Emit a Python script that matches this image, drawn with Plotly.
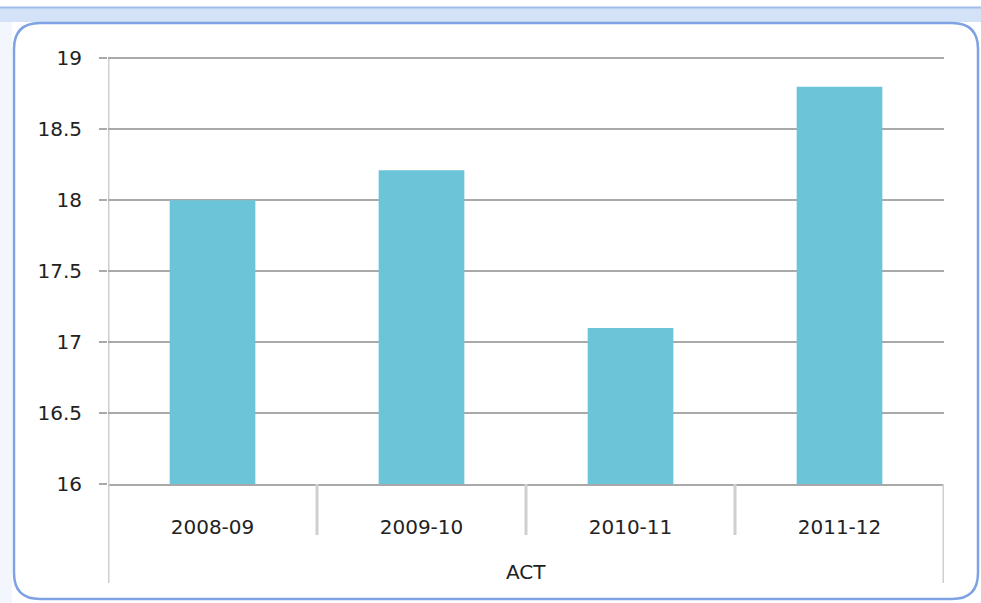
import plotly.graph_objects as go

categories = ["2008-09", "2009-10", "2010-11", "2011-12"]
values = [18.0, 18.21, 17.1, 18.8]
group_label = "ACT"
y_ticks = [16, 16.5, 17, 17.5, 18, 18.5, 19]
y_ticktext = ["16", "16.5", "17", "17.5", "18", "18.5", "19"]

W, H = 981, 603
Y_MIN, Y_MAX = 16, 19.03
L, R, B = 108, 944, 484
T = 58 - round((Y_MAX - 19) * (B - 58) / 3)  # plot top in px


def px(x):
    return (x - L) / (R - L)


def py(y):
    return (B - y) / (B - T)


FONT = "DejaVu Sans"
FS = 20
TXT = "#222222"
bar_color = "#6CC4D8"
grid_color = "#A9A9A9"
div_color = "#CFCFCF"

fig = go.Figure()
fig.add_trace(go.Bar(x=categories, y=values, marker=dict(color=bar_color, line=dict(width=0)),
                     width=0.41))

shapes = []
# top strip
shapes.append(dict(type="rect", xref="paper", yref="paper", x0=px(0), x1=px(W), y0=py(22), y1=py(7),
                   fillcolor="#D3E2F6", line=dict(width=0), layer="below"))
shapes.append(dict(type="line", xref="paper", yref="paper", x0=px(0), x1=px(W), y0=py(7.5), y1=py(7.5),
                   line=dict(color="#9FBCEB", width=2), layer="below"))
shapes.append(dict(type="rect", xref="paper", yref="paper", x0=px(0), x1=px(12), y0=py(W), y1=py(22),
                   fillcolor="#F3F6FC", line=dict(width=0), layer="below"))
# rounded chart border
x0, x1, y0, y1, r = 14, 978, 23, 599, 26
path = (f"M {px(x0+r)},{py(y0)} L {px(x1-r)},{py(y0)} Q {px(x1)},{py(y0)} {px(x1)},{py(y0+r)} "
        f"L {px(x1)},{py(y1-r)} Q {px(x1)},{py(y1)} {px(x1-r)},{py(y1)} "
        f"L {px(x0+r)},{py(y1)} Q {px(x0)},{py(y1)} {px(x0)},{py(y1-r)} "
        f"L {px(x0)},{py(y0+r)} Q {px(x0)},{py(y0)} {px(x0+r)},{py(y0)} Z")
shapes.append(dict(type="path", xref="paper", yref="paper", path=path, fillcolor="white",
                   line=dict(color="#7EA2E4", width=2.5), layer="below"))
# category dividers
n = len(categories)
for i in range(n + 1):
    xv = i - 0.5
    bottom = 583 if i in (0, n) else 535
    shapes.append(dict(type="line", xref="x", yref="paper", x0=xv, x1=xv, y0=py(bottom), y1=py(484),
                       line=dict(color=div_color, width=3), layer="above"))
# y axis line
shapes.append(dict(type="line", xref="x", yref="y", x0=-0.5, x1=-0.5, y0=Y_MIN, y1=19,
                   line=dict(color=div_color, width=3), layer="below"))

fig.update_layout(
    width=W, height=H,
    margin=dict(l=L, r=W - R, t=T, b=H - B, pad=0),
    paper_bgcolor="white", plot_bgcolor="rgba(0,0,0,0)",
    showlegend=False,
    font=dict(family=FONT, size=FS, color=TXT),
    shapes=shapes,
    annotations=[dict(text=group_label, xref="paper", yref="paper", x=0.5, y=py(572),
                      showarrow=False, font=dict(family=FONT, size=FS, color=TXT),
                      xanchor="center", yanchor="middle")],
    xaxis=dict(type="category", range=[-0.5, n - 0.5], showgrid=False, showline=True,
               linecolor=grid_color, linewidth=2, ticks="", ticklabelstandoff=24,
               tickfont=dict(family=FONT, size=FS, color=TXT), fixedrange=True),
    yaxis=dict(range=[Y_MIN, Y_MAX], tickvals=y_ticks, ticktext=y_ticktext, showgrid=True,
               gridcolor=grid_color, gridwidth=2, zeroline=False, showline=False,
               ticks="outside", ticklen=8, tickcolor=grid_color, tickwidth=2,
               ticklabelstandoff=13, tickfont=dict(family=FONT, size=FS, color=TXT),
               fixedrange=True),
)

fig.write_html("out.html", config={"displayModeBar": False})
